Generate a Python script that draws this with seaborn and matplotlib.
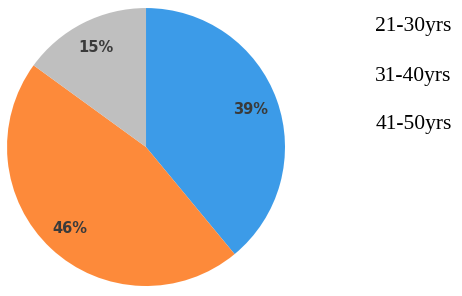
import matplotlib
matplotlib.use("Agg")
import matplotlib.pyplot as plt
import seaborn as sns

categories = ["21-30yrs", "31-40yrs", "41-50yrs"]
values = [39, 46, 15]
pct_labels = ["39%", "46%", "15%"]

sns.set_style("white")
colors = sns.color_palette(["#3C9BE8", "#FD8A3A", "#BFBFBF"])

fig = plt.figure(figsize=(4.62, 2.96), dpi=100)
ax = fig.add_axes([0.0152, 0.0338, 0.6017, 0.939])
wedges, texts = ax.pie(values, colors=colors, startangle=90, counterclock=False,
                       labels=pct_labels, labeldistance=0.8,
                       textprops=dict(fontsize=10.5, fontweight="bold", color="#3a3a3a",
                                      family="DejaVu Sans"),
                       wedgeprops=dict(linewidth=0))
for t in texts:
    t.set_horizontalalignment("center")
    t.set_verticalalignment("center")
ax.set_xlim(-1.0, 1.0)
ax.set_ylim(-1.0, 1.0)
ax.set_aspect("equal")
ax.axis("off")

ys = [0.909, 0.740, 0.578]
for cat, y in zip(categories, ys):
    fig.text(0.812, y, cat, fontsize=15.5, family="Liberation Serif", color="black",
             ha="left", va="center")

fig.savefig("out.png", dpi=100)
